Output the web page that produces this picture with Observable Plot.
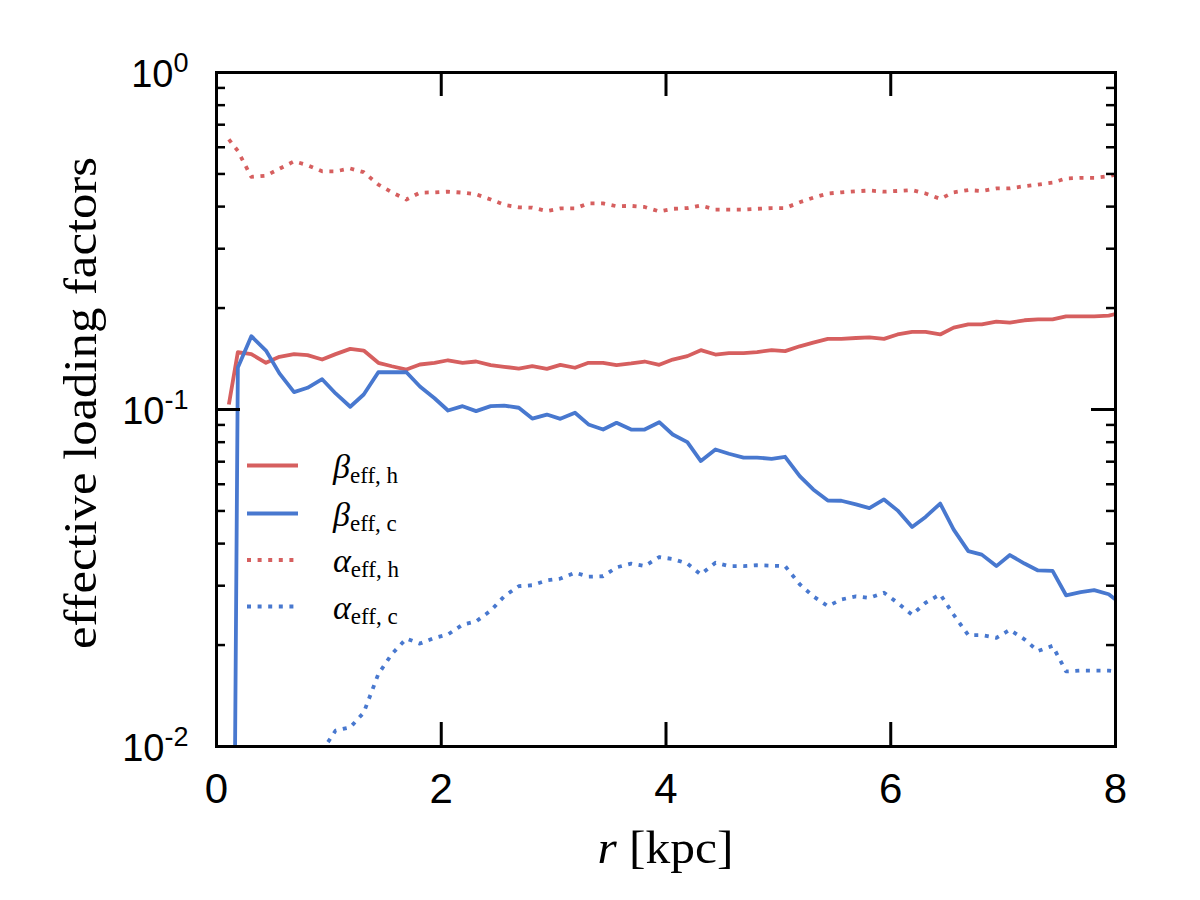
<!DOCTYPE html>
<html>
<head>
<meta charset="utf-8">
<script src="https://cdn.jsdelivr.net/npm/d3@7"></script>
<script src="https://cdn.jsdelivr.net/npm/@observablehq/plot@0.6"></script>
<style>
  html, body { margin: 0; padding: 0; background: #ffffff; }
  #chart svg { display: block; }
</style>
</head>
<body>
<div id="chart"></div>
<script>
// ---- data ----
const r = [0.11, 0.19, 0.31, 0.44, 0.56, 0.69, 0.81, 0.94,
  1.06, 1.19, 1.31, 1.44, 1.56, 1.69, 1.81, 1.94,
  2.06, 2.19, 2.31, 2.44, 2.56, 2.69, 2.81, 2.94,
  3.06, 3.19, 3.31, 3.44, 3.56, 3.69, 3.81, 3.94,
  4.06, 4.19, 4.31, 4.44, 4.56, 4.69, 4.81, 4.94,
  5.06, 5.19, 5.31, 5.44, 5.56, 5.69, 5.81, 5.94,
  6.06, 6.19, 6.31, 6.44, 6.56, 6.69, 6.81, 6.94,
  7.06, 7.19, 7.31, 7.44, 7.56, 7.69, 7.81, 7.94, 8.0];

const betaEffH = [0.1035, 0.148, 0.146, 0.1376, 0.1433, 0.146, 0.145, 0.1407,
  0.146, 0.1513, 0.1496, 0.1376, 0.1344, 0.1314, 0.136, 0.1376,
  0.140, 0.1376, 0.1388, 0.1354, 0.1339, 0.1323, 0.1344, 0.132,
  0.1357, 0.133, 0.1376, 0.1376, 0.1354, 0.137, 0.1388, 0.1357,
  0.1407, 0.144, 0.150, 0.1456, 0.147, 0.147, 0.148, 0.150,
  0.149, 0.154, 0.158, 0.162, 0.162, 0.163, 0.1636, 0.162,
  0.167, 0.170, 0.170, 0.167, 0.175, 0.179, 0.179, 0.1824,
  0.181, 0.184, 0.185, 0.185, 0.189, 0.189, 0.189, 0.190, 0.192];

const betaEffC = [0.00003, 0.1332, 0.165, 0.1496, 0.128, 0.1126, 0.116, 0.123,
  0.1116, 0.1019, 0.1108, 0.129, 0.129, 0.129, 0.117, 0.108,
  0.0993, 0.1023, 0.0989, 0.1023, 0.1027, 0.1012, 0.094, 0.0966,
  0.0938, 0.0978, 0.0903, 0.0872, 0.0913, 0.0872, 0.0872, 0.0917,
  0.0843, 0.080, 0.0703, 0.0761, 0.0739, 0.072, 0.072, 0.0714,
  0.0724, 0.0634, 0.0579, 0.0537, 0.0536, 0.0523, 0.051, 0.0541,
  0.0502, 0.0448, 0.048, 0.0526, 0.044, 0.038, 0.0371, 0.0343,
  0.037, 0.0349, 0.0333, 0.0332, 0.0281, 0.0287, 0.0291, 0.0283, 0.0273];

const alphaEffH = [0.633, 0.585, 0.49, 0.494, 0.518, 0.545, 0.531, 0.509,
  0.509, 0.519, 0.506, 0.465, 0.441, 0.42, 0.44, 0.441,
  0.443, 0.44, 0.435, 0.42, 0.405, 0.398, 0.397, 0.388,
  0.395, 0.395, 0.409, 0.409, 0.401, 0.402, 0.399, 0.387,
  0.394, 0.396, 0.403, 0.392, 0.392, 0.392, 0.394, 0.396,
  0.396, 0.412, 0.425, 0.4375, 0.441, 0.444, 0.4465, 0.443,
  0.445, 0.448, 0.4375, 0.4217, 0.441, 0.448, 0.445, 0.453,
  0.453, 0.46, 0.465, 0.471, 0.485, 0.487, 0.487, 0.492, 0.498];

const alphaEffC = [null, null, null, null, null, null, null, 0.0097,
  0.01115, 0.0114, 0.0126, 0.0164, 0.0188, 0.0209, 0.0202, 0.021,
  0.0215, 0.023, 0.0235, 0.0253, 0.0279, 0.0299, 0.0301, 0.0311,
  0.0315, 0.0328, 0.0319, 0.032, 0.034, 0.0349, 0.0343, 0.0365,
  0.036, 0.0349, 0.0324, 0.0351, 0.0343, 0.0343, 0.0345, 0.0344,
  0.0343, 0.0303, 0.0279, 0.0261, 0.0273, 0.0279, 0.0276, 0.0286,
  0.0267, 0.0246, 0.0267, 0.0283, 0.0246, 0.0214, 0.0214, 0.021,
  0.0222, 0.0208, 0.0192, 0.0199, 0.0167, 0.0168, 0.0168, 0.0168, 0.0167];

const xTicks = [0, 2, 4, 6, 8];
const yMajorTicks = [0.01, 0.1, 1];
const yTickBase = ["10", "10", "10"];
const yTickExp = ["-2", "-1", "0"];
const yMinorTicks = [0.02, 0.03, 0.04, 0.05, 0.06, 0.07, 0.08, 0.09,
  0.2, 0.3, 0.4, 0.5, 0.6, 0.7, 0.8, 0.9];

const xLabel = "r";
const xLabelUnit = " [kpc]";
const yLabel = "effective loading factors";

const RED = "#D65F5F";
const BLUE = "#4878CF";

const series = [
  {key: "betaH", values: betaEffH, color: RED, dash: null, sym: "\u03B2", sub: "eff, h"},
  {key: "betaC", values: betaEffC, color: BLUE, dash: null, sym: "\u03B2", sub: "eff, c"},
  {key: "alphaH", values: alphaEffH, color: RED, dash: "4,6.6", sym: "\u03B1", sub: "eff, h"},
  {key: "alphaC", values: alphaEffC, color: BLUE, dash: "4,6.6", sym: "\u03B1", sub: "eff, c"}
];

// ---- layout ----
const W = 1200, H = 900;
const ML = 216, MR = 85, MT = 72, MB = 154;
const plotW = W - ML - MR;
const plotH = H - MT - MB;
const LW = 3.8;

const lineMarks = series.map(s => {
  const rows = r.map((x, i) => ({r: x, v: s.values[i]}));
  return Plot.line(rows, {
    x: "r", y: "v",
    stroke: s.color, strokeWidth: LW,
    strokeDasharray: s.dash || undefined,
    strokeLinejoin: "round",
    strokeLinecap: "butt",
    clip: true
  });
});

const chart = Plot.plot({
  width: W, height: H,
  marginLeft: ML, marginRight: MR, marginTop: MT, marginBottom: MB,
  style: {background: "#ffffff", fontFamily: "Liberation Sans", color: "black"},
  x: {type: "linear", domain: [0, 8], axis: null},
  y: {type: "log", domain: [0.01, 1], axis: null},
  marks: [
    ...lineMarks,
    // major y ticks (left + right, inward)
    Plot.tickY(yMajorTicks, {y: d => d, insetRight: plotW - 24, stroke: "black", strokeWidth: 3}),
    Plot.tickY(yMajorTicks, {y: d => d, insetLeft: plotW - 24, stroke: "black", strokeWidth: 3}),
    // minor y ticks
    Plot.tickY(yMinorTicks, {y: d => d, insetRight: plotW - 9, stroke: "black", strokeWidth: 2.5}),
    Plot.tickY(yMinorTicks, {y: d => d, insetLeft: plotW - 9, stroke: "black", strokeWidth: 2.5}),
    // x ticks (bottom + top, inward)
    Plot.tickX(xTicks, {x: d => d, insetTop: plotH - 24, stroke: "black", strokeWidth: 3}),
    Plot.tickX(xTicks, {x: d => d, insetBottom: plotH - 24, stroke: "black", strokeWidth: 3}),
    Plot.frame({stroke: "black", strokeWidth: 3}),
    // tick labels
    Plot.text(xTicks, {x: d => d, text: d => String(d), frameAnchor: "bottom", lineAnchor: "top",
      dy: 27, fontSize: 42, fontFamily: "Liberation Sans", fill: "black"}),
    Plot.text(yMajorTicks, {y: d => d, text: (d, i) => yTickBase[i], frameAnchor: "left",
      textAnchor: "end", dx: -28, dy: 2.5, fontSize: 38, fontFamily: "Liberation Sans", fill: "black",
      ariaDescription: "ytick-labels"})
  ]
});

document.getElementById("chart").appendChild(chart);

const svg = d3.select(chart);

// superscript exponents for y tick labels
svg.selectAll('g[aria-description="ytick-labels"] text').each(function(d, i) {
  const t = d3.select(this);
  t.append("tspan").attr("dy", -15).attr("font-size", 27).text(yTickExp[i]);
});

// axis labels
svg.append("text")
  .attr("transform", `translate(96, ${MT + plotH / 2 - 6}) rotate(-90)`)
  .attr("text-anchor", "middle")
  .attr("font-family", "Liberation Serif")
  .attr("font-size", 47)
  .attr("fill", "black")
  .attr("textLength", 492)
  .attr("lengthAdjust", "spacingAndGlyphs")
  .text(yLabel);

const xl = svg.append("text")
  .attr("x", ML + plotW / 2)
  .attr("y", 863)
  .attr("text-anchor", "middle")
  .attr("font-family", "Liberation Serif")
  .attr("font-size", 47)
  .attr("fill", "black")
  .attr("textLength", 136)
  .attr("lengthAdjust", "spacingAndGlyphs");
xl.append("tspan").attr("font-style", "italic").text(xLabel);
xl.append("tspan").text(xLabelUnit);

// legend
const legY = [465.5, 513.5, 560, 606.5];
const leg = svg.append("g");
series.forEach((s, i) => {
  leg.append("line")
    .attr("x1", 247).attr("x2", 298)
    .attr("y1", legY[i]).attr("y2", legY[i])
    .attr("stroke", s.color).attr("stroke-width", LW)
    .attr("stroke-dasharray", s.dash || null);
  const t = leg.append("text")
    .attr("x", 333).attr("y", legY[i] + 12)
    .attr("text-anchor", "start")
    .attr("font-family", "Liberation Serif")
    .attr("font-size", 34)
    .attr("fill", "black");
  t.append("tspan").attr("font-style", "italic").text(s.sym);
  t.append("tspan").attr("dy", 5).attr("font-size", 23).text(s.sub);
});
</script>
</body>
</html>
